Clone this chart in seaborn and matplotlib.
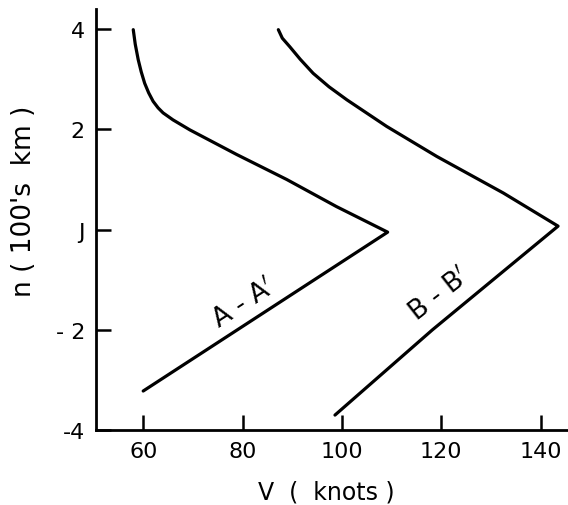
import numpy as np
import pandas as pd
import seaborn as sns
import matplotlib
matplotlib.use("Agg")
import matplotlib.pyplot as plt

# velocity profiles across the jet
a_v = [58.0, 58.4, 59.0, 59.6, 60.3, 61.1, 62.0, 63.0, 64.0, 66.0, 69.4, 78.8, 88.9, 98.9, 109.2,
       60.0]
a_n = [3.99, 3.70, 3.39, 3.15, 2.92, 2.73, 2.56, 2.43, 2.33, 2.19, 1.99, 1.50, 1.00, 0.46, -0.05,
       -3.22]
b_v = [87.2, 88.0, 89.5, 91.6, 94.2, 97.4, 101.0, 109.0, 119.1, 132.5, 143.5,
       118.2, 98.6]
b_n = [3.99, 3.82, 3.65, 3.40, 3.12, 2.85, 2.59, 2.06, 1.46, 0.73, 0.07,
       -2.0, -3.70]

x_ticks = [60, 80, 100, 120, 140]
y_ticks = [4, 2, 0, -2, -4]
y_ticklabels = ["4", "2", "J", "- 2", "-4"]

df = pd.concat([
    pd.DataFrame({"V": a_v, "n": a_n, "section": "A-A'"}),
    pd.DataFrame({"V": b_v, "n": b_n, "section": "B-B'"}),
], ignore_index=True)

sns.set_style("ticks", {"text.color": "black", "axes.labelcolor": "black",
                        "xtick.color": "black", "ytick.color": "black",
                        "axes.edgecolor": "black"})
plt.rcParams['font.family'] = ['DejaVu Sans']

fig = plt.figure(figsize=(5.68, 5.06), dpi=100)
ax = fig.add_axes([0.169, 0.148, 0.831, 0.832])

sns.lineplot(data=df, x="V", y="n", hue="section", palette=["black", "black"],
             sort=False, estimator=None, legend=False, linewidth=2.3, ax=ax)

# section labels sit along the lower branches
ax.text(80.3, -1.47, "A - A$'$", rotation=33, ha="center", va="center",
        fontsize=19, color="black")
ax.text(119.7, -1.29, "B - B$'$", rotation=38, ha="center", va="center",
        fontsize=19, color="black")

ax.set_xlim(50.5, 145.5)
ax.set_ylim(-4, 4.4)
ax.set_xticks(x_ticks)
ax.set_yticks(y_ticks)
ax.set_yticklabels(y_ticklabels)
ax.tick_params(direction="in", length=11, width=1.8, labelsize=16, pad=8)
ax.set_xlabel("V  (  knots )", fontsize=17)
ax.set_ylabel("n ( 100's  km )", fontsize=19)
ax.xaxis.set_label_coords(0.487, -0.118)
ax.yaxis.set_label_coords(-0.126, 0.546)
sns.despine(ax=ax)
for s in ["left", "bottom"]:
    ax.spines[s].set_linewidth(2)

fig.savefig("out.png", dpi=100)
